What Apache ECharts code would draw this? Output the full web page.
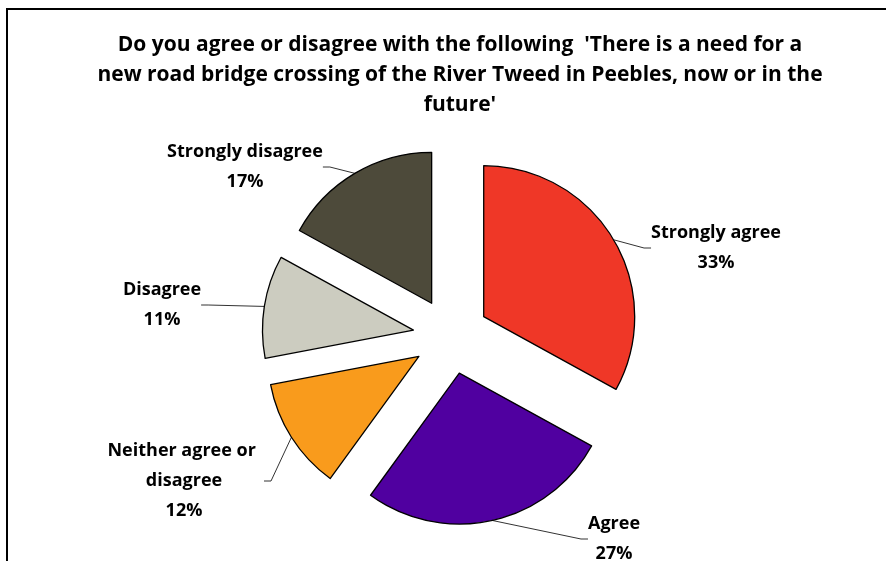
<!DOCTYPE html>
<html>
<head>
<meta charset="utf-8">
<title>New road bridge crossing of the River Tweed</title>
<script src="https://cdn.jsdelivr.net/npm/echarts@6/dist/echarts.min.js"></script>
<style>
  html, body { margin: 0; padding: 0; background: #fff; }
  #chart { width: 886px; height: 561px; }
</style>
</head>
<body>
<div id="chart"></div>
<script>
// Survey responses (percent of respondents), clockwise from 12 o'clock
const categories = ['Strongly agree', 'Agree', 'Neither agree or disagree', 'Disagree', 'Strongly disagree'];
const shares = [33, 27, 12, 11, 17];
const sliceColors = ['#EF3727', '#5000A0', '#F99B1C', '#CCCCC0', '#4D4A3A'];

const titleText = "Do you agree or disagree with the following  'There is a need for a\nnew road bridge crossing of the River Tweed in Peebles, now or in the\nfuture'";

// Layout of the exploded pie
const PIE_CENTER = [451, 336];
const PIE_RADIUS = 151;
const EXPLODE = 38;
// Centre of each slice's label box on the canvas
const labelAnchors = [[716, 248], [614, 539], [184, 481], [162, 305], [245, 167]];

const FONT = '"Open Sans", "Noto Sans", sans-serif';

const chart = echarts.init(document.getElementById('chart'), null, { renderer: 'canvas' });

// Slices, every one pulled out from the centre
const sliceData = categories.map((name, i) => ({
  name: name,
  value: shares[i],
  selected: true,
  itemStyle: { color: sliceColors[i] }
}));

// Same values on an unfilled ring whose rim runs through the pulled-out arcs;
// it carries the category labels and their leader lines
const labelData = categories.map((name, i) => ({
  name: name,
  value: shares[i],
  label: name === 'Neither agree or disagree' ? { width: 160, overflow: 'break' } : {}
}));

chart.setOption({
  animation: false,
  backgroundColor: '#ffffff',
  title: {
    text: titleText,
    left: 455,
    top: 25,
    textAlign: 'center',
    textStyle: {
      fontFamily: FONT,
      fontWeight: 'bold',
      fontSize: 21,
      lineHeight: 30,
      color: '#000'
    }
  },
  graphic: [{
    type: 'rect',
    shape: { x: 7, y: 9, width: 1000, height: 700 },
    style: { fill: 'none', stroke: '#000', lineWidth: 2 },
    silent: true,
    z: -1
  }],
  series: [{
    name: 'slices',
    type: 'pie',
    center: PIE_CENTER,
    radius: PIE_RADIUS,
    startAngle: 90,
    clockwise: true,
    selectedMode: 'multiple',
    selectedOffset: EXPLODE,
    emphasis: { disabled: true },
    itemStyle: { borderColor: '#000', borderWidth: 1.3 },
    label: { show: false },
    labelLine: { show: false },
    data: sliceData,
    z: 3
  }, {
    name: 'labels',
    type: 'pie',
    center: PIE_CENTER,
    radius: PIE_RADIUS + EXPLODE,
    startAngle: 90,
    clockwise: true,
    silent: true,
    avoidLabelOverlap: false,
    emphasis: { disabled: true },
    itemStyle: { color: 'rgba(0,0,0,0)', borderWidth: 0 },
    label: {
      show: true,
      position: 'outside',
      formatter: p => p.name + '\n' + p.value + '%',
      fontFamily: FONT,
      fontWeight: 'bold',
      fontSize: 18,
      lineHeight: 30,
      color: '#000',
      align: 'center'
    },
    labelLine: {
      show: true,
      length: 10,
      length2: 7,
      lineStyle: { color: '#333', width: 1 }
    },
    labelLayout: params => {
      const a = labelAnchors[params.dataIndex];
      return { x: a[0], y: a[1], align: 'center', verticalAlign: 'middle' };
    },
    data: labelData,
    z: 2
  }]
});
</script>
</body>
</html>
